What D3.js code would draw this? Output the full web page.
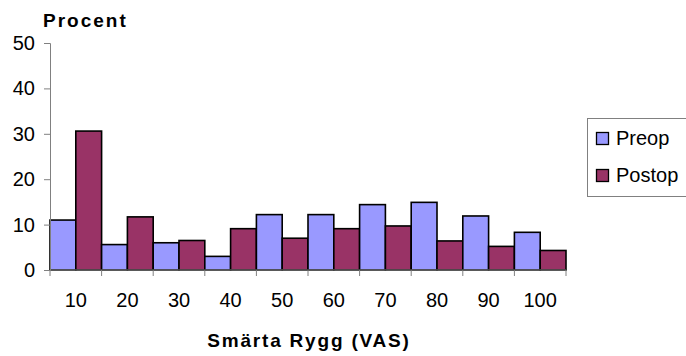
<!DOCTYPE html>
<html>
<head>
<meta charset="utf-8">
<script src="https://cdn.jsdelivr.net/npm/d3@7"></script>
<style>
  html, body { margin: 0; padding: 0; background: #fff; }
  svg { display: block; font-family: "Liberation Sans", Arial, sans-serif; }
</style>
</head>
<body>
<svg id="chart" width="686" height="356"></svg>
<script>
// Pain score categories (VAS) and share of patients per category, in percent
const categories = ["10", "20", "30", "40", "50", "60", "70", "80", "90", "100"];
const preop  = [11, 5.6, 6, 3, 12.2, 12.2, 14.4, 14.9, 11.9, 8.3];
const postop = [30.6, 11.7, 6.5, 9.1, 7, 9.1, 9.7, 6.4, 5.2, 4.3];
const seriesNames = ["Preop", "Postop"];
const seriesColors = ["#9999FF", "#993366"];
const yTicks = [0, 10, 20, 30, 40, 50];

const svg = d3.select("#chart");
const plot = { left: 50, right: 566, top: 43, bottom: 270 };

const x = d3.scaleBand().domain(categories).range([plot.left, plot.right]).padding(0);
const xInner = d3.scaleBand().domain(seriesNames).range([0, x.bandwidth()]).padding(0);
const y = d3.scaleLinear().domain([0, 50]).range([plot.bottom, plot.top]);

const rows = categories.map((c, i) => ({ cat: c, values: [preop[i], postop[i]] }));

// Bars
const groups = svg.append("g").selectAll("g").data(rows).join("g")
  .attr("transform", d => `translate(${x(d.cat)},0)`);
groups.selectAll("rect")
  .data(d => d.values.map((v, k) => ({ name: seriesNames[k], v, k })))
  .join("rect")
  .attr("x", d => xInner(d.name))
  .attr("y", d => y(d.v))
  .attr("width", xInner.bandwidth())
  .attr("height", d => y(0) - y(d.v))
  .attr("fill", d => seriesColors[d.k])
  .attr("stroke", "#000")
  .attr("stroke-width", 1.6);

// Y axis
const yAxis = svg.append("g")
  .attr("transform", `translate(${plot.left},0)`)
  .call(d3.axisLeft(y).tickValues(yTicks).tickSize(6).tickPadding(9));
yAxis.select(".domain").attr("stroke", "#808080");
yAxis.selectAll(".tick line").attr("stroke", "#808080");
yAxis.selectAll(".tick text").attr("font-size", 20).attr("fill", "#000")
  .attr("font-family", "Liberation Sans, Arial, sans-serif");

// X axis: ticks on category boundaries, labels centered in each category
const xAxisG = svg.append("g");
xAxisG.append("line")
  .attr("x1", plot.left).attr("x2", plot.right)
  .attr("y1", plot.bottom).attr("y2", plot.bottom)
  .attr("stroke", "#808080");
const boundaries = categories.map(c => x(c)).concat([x(categories[categories.length - 1]) + x.bandwidth()]);
xAxisG.selectAll("line.tick").data(boundaries).join("line")
  .attr("class", "tick")
  .attr("x1", d => d).attr("x2", d => d)
  .attr("y1", plot.bottom).attr("y2", plot.bottom + 6)
  .attr("stroke", "#808080");
xAxisG.selectAll("text").data(categories).join("text")
  .attr("x", d => x(d) + x.bandwidth() / 2)
  .attr("y", 307)
  .attr("text-anchor", "middle")
  .attr("font-size", 20)
  .text(d => d);

// Axis titles
svg.append("text")
  .attr("x", 43).attr("y", 27)
  .attr("font-size", 19).attr("font-weight", "bold")
  .attr("letter-spacing", 2)
  .text("Procent");
svg.append("text")
  .attr("x", 309).attr("y", 347)
  .attr("text-anchor", "middle")
  .attr("font-size", 19).attr("font-weight", "bold")
  .attr("letter-spacing", 1.8)
  .text("Smärta Rygg (VAS)");

// Legend
const legend = svg.append("g");
legend.append("rect")
  .attr("x", 587.5).attr("y", 118.5)
  .attr("width", 120).attr("height", 78)
  .attr("fill", "#fff").attr("stroke", "#808080");
const items = legend.selectAll("g.item").data(seriesNames).join("g")
  .attr("class", "item")
  .attr("transform", (d, i) => `translate(0,${i * 37})`);
items.append("rect")
  .attr("x", 596.5).attr("y", 132.5)
  .attr("width", 12).attr("height", 12)
  .attr("fill", (d, i) => seriesColors[i])
  .attr("stroke", "#000").attr("stroke-width", 1.3);
items.append("text")
  .attr("x", 616).attr("y", 145)
  .attr("font-size", 20)
  .text(d => d);
</script>
</body>
</html>
